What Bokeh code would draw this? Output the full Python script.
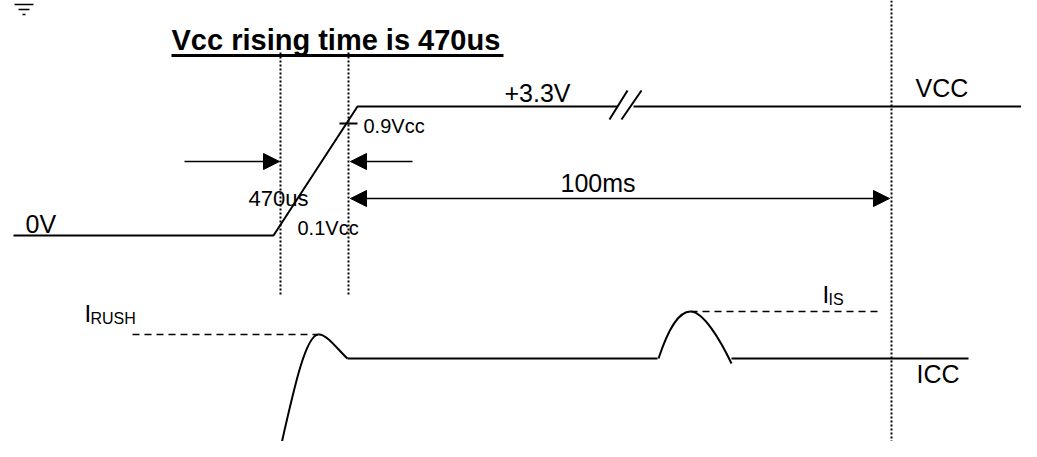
from bokeh.plotting import figure
from bokeh.models import Range1d, Arrow, NormalHead
from bokeh.core.properties import value
from bokeh.embed import file_html
from bokeh.resources import INLINE

FONT = value("Liberation Sans")

# ---------------- data (diagram coordinates: x = time axis, y = depth from top) -------------
# VCC waveform
vcc_x = [13, 273, 357, 617]
vcc_y = [235, 235, 106, 106]
vcc_tail_x = [633, 1037]
vcc_tail_y = [106, 106]
# break marks "//"
brk_x0 = [609, 621]
brk_y0 = [119, 119]
brk_x1 = [627, 641]
brk_y1 = [90, 90]
# 0.9Vcc tick
tick_x = [339, 357]
tick_y = [123, 123]
# dotted time markers
mark_x = [280, 348, 891]
mark_top = [52, 52, 0]
mark_bot = [295, 295, 449]
# dimension arrows (start -> end)
arr_x0 = [184, 412]
arr_x1 = [279, 350]
arr_y = [161, 161]
span_x = [350, 889]
span_y = 198
# ICC waveform flat parts
icc_flat_x0 = [347, 731]
icc_flat_x1 = [657, 968]
icc_level = 358
# ICC curves (cubic beziers): start, control 0, control 1, end
bz_x0 = [279, 318, 658, 690]
bz_y0 = [452, 334, 358, 311]
bz_cx0 = [293, 326, 668, 703]
bz_cy0 = [390, 333, 328, 311]
bz_cx1 = [305, 338, 678, 720]
bz_cy1 = [334, 350, 311, 340]
bz_x1 = [318, 347, 690, 731]
bz_y1 = [334, 358, 311, 363]
# dashed peak levels
peak_x0 = [132, 690]
peak_x1 = [318, 882]
peak_y = [334, 311]
# ground-like symbol
gnd_x0 = [14, 18, 22]
gnd_x1 = [33, 29, 25]
gnd_y = [4, 9, 14]

# labels (left x, baseline depth, size)
lbl_text = ["VCC", "+3.3V", "100ms", "0V", "ICC"]
lbl_x = [915, 504, 560, 25, 916]
lbl_y = [96, 101, 191, 232, 382]
small_text = ["0.9Vcc", "0.1Vcc", "470us"]
small_x = [363, 297, 248]
small_y = [132, 234, 206]
small_size = [20, 20, 22]
cur_text = ["I", "I"]
cur_x = [84, 822]
cur_y = [321, 302]
sub_text = ["RUSH", "IS"]
sub_x = [90, 828]
sub_y = [324, 305]
title_text = "Vcc rising time is 470us"
title_x = 171
title_y = 50
title_end = 503

# ---------------- figure -------------
W, H = 1021, 441


def Y(v):
    """depth from top -> upward data coordinate"""
    if isinstance(v, (list, tuple)):
        return [H - a for a in v]
    return H - v


p = figure(width=W, height=H, x_range=Range1d(0, W), y_range=Range1d(0, H),
           output_backend="svg", toolbar_location=None, min_border=0,
           x_axis_location=None, y_axis_location=None)
p.grid.visible = False
p.outline_line_color = None
p.background_fill_color = "white"
p.border_fill_color = "white"

K = "black"
p.line(vcc_x, Y(vcc_y), line_color=K, line_width=2)
p.line(vcc_tail_x, Y(vcc_tail_y), line_color=K, line_width=2)
p.segment(brk_x0, Y(brk_y0), brk_x1, Y(brk_y1), line_color=K, line_width=2)
p.line(tick_x, Y(tick_y), line_color=K, line_width=2)
p.segment(mark_x, Y(mark_top), mark_x, Y(mark_bot), line_color=K, line_width=2, line_dash="2 2")

for x0, x1, y in zip(arr_x0, arr_x1, arr_y):
    p.add_layout(Arrow(end=NormalHead(size=16, fill_color=K, line_color=K, line_width=1),
                       x_start=x0, y_start=Y(y), x_end=x1, y_end=Y(y), line_color=K, line_width=1.5))
p.add_layout(Arrow(start=NormalHead(size=16, fill_color=K, line_color=K, line_width=1),
                   end=NormalHead(size=16, fill_color=K, line_color=K, line_width=1),
                   x_start=span_x[0], y_start=Y(span_y), x_end=span_x[1], y_end=Y(span_y),
                   line_color=K, line_width=1.5))

p.segment(icc_flat_x0, Y([icc_level] * 2), icc_flat_x1, Y([icc_level] * 2), line_color=K, line_width=2)
p.bezier(x0=bz_x0, y0=Y(bz_y0), x1=bz_x1, y1=Y(bz_y1), cx0=bz_cx0, cy0=Y(bz_cy0),
         cx1=bz_cx1, cy1=Y(bz_cy1), line_color=K, line_width=2)
p.segment(peak_x0, Y(peak_y), peak_x1, Y(peak_y), line_color=K, line_width=1.5, line_dash="7 5")
p.segment(gnd_x0, Y(gnd_y), gnd_x1, Y(gnd_y), line_color=K, line_width=1.5)


def label(xs, baselines, texts, size, bold=False):
    # place by the middle of the cap height so the baseline lands where intended
    mids = [Y(b - 0.35 * size) for b in baselines]
    p.text(xs, mids, text=texts, text_font=FONT, text_font_size=f"{size}px",
           text_font_style="bold" if bold else "normal",
           text_baseline="middle", text_align="left", text_color=K)


label(lbl_x, lbl_y, lbl_text, 25)
for t, x, y, s in zip(small_text, small_x, small_y, small_size):
    label([x], [y], [t], s)
label(cur_x, cur_y, cur_text, 24)
label(sub_x, sub_y, sub_text, 16)
label([title_x], [title_y], [title_text], 29, bold=True)
p.segment([title_x], [Y(title_y + 5)], [title_end], [Y(title_y + 5)], line_color=K, line_width=3)

open("out.html", "w").write(file_html(p, INLINE))
